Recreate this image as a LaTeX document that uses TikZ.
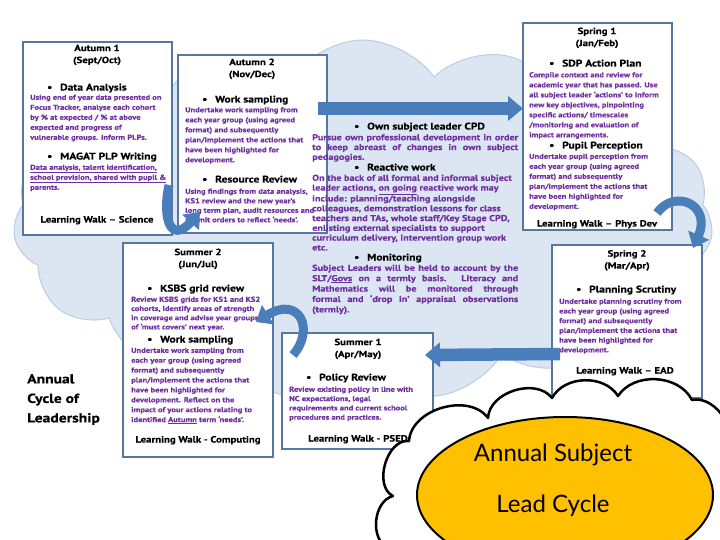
\documentclass[tikz,border=0pt]{standalone}
\usepackage{fontspec}
\setmainfont{PT Sans}
\newfontfamily\bx{PT Sans}[FakeStretch=1.2, Ligatures=TeX, BoldFeatures={FakeBold=0.4}]
\newfontfamily\latofont{Lato}
\usetikzlibrary{shapes.symbols,shapes.geometric,arrows.meta,calc}
\definecolor{cloudfill}{HTML}{DCE6F2}
\definecolor{cloudline}{HTML}{B9CDE5}
\definecolor{boxline}{HTML}{56779F}
\definecolor{arrowblue}{HTML}{4A7EBB}
\definecolor{txtpurple}{HTML}{7030A0}
\definecolor{ellorange}{HTML}{FFC000}
\newcommand{\bul}{\makebox[13pt][l]{\textbullet}}
\newcommand{\jl}[1]{\makebox[206pt][s]{#1}}
\tikzset{
  season/.style={draw=boxline, line width=1.5pt, fill=white, anchor=north west, inner sep=0pt, outer sep=0pt},
  ttl/.style={anchor=north, align=center, inner sep=0pt, font=\bx\bfseries\fontsize{9}{12}\selectfont},
  hd/.style={anchor=mid west, inner sep=0pt, font=\bx\bfseries\fontsize{9.6}{10}\selectfont},
  bdy/.style={anchor=north west, align=left, inner sep=0pt, text=txtpurple, font=\bx\bfseries\fontsize{7.1}{10}\selectfont},
  mbdy/.style={anchor=north west, align=left, inner sep=0pt, text=txtpurple, font=\bx\bfseries\fontsize{8.5}{9.8}\selectfont},
  ftr/.style={anchor=mid, inner sep=0pt, font=\bx\bfseries\fontsize{9}{10}\selectfont},
  straightarrow/.style={line width=12.5pt, draw=arrowblue, -{Triangle[width=24pt 0,length=15pt 0]}},
  curvearrow/.style={line width=9pt, draw=arrowblue, -{Triangle[width=22pt 0,length=14pt 0]}},
  bigtext/.style={anchor=mid, inner sep=0pt, font=\latofont\fontsize{24}{28}\selectfont},
  whitecloud/.style={fill=white, draw=black, line width=2.5pt, line join=round}
}
\begin{document}
\begin{tikzpicture}[x=1pt,y=-1pt]
\useasboundingbox (0,0) rectangle (720,540);
\clip (0,0) rectangle (720,540);
% background cloud
\node[cloud, cloud puffs=15, cloud puff arc=110, aspect=1.95, minimum width=700pt, minimum height=360pt,
      fill=cloudfill, draw=cloudline, line width=1pt] (bg) at (363,220) {};
% season boxes
\node[season, minimum width=149pt, minimum height=193pt] (a1) at (23,42) {};
\node[season, minimum width=149pt, minimum height=178pt] (a2) at (178,55) {};
\node[season, minimum width=149pt, minimum height=207pt] (s1) at (523,23) {};
\node[season, minimum width=150pt, minimum height=153pt] (sp2) at (552,245) {};
\node[season, minimum width=150pt, minimum height=214pt] (su2) at (123,243) {};
\node[season, minimum width=151pt, minimum height=116pt] (su1) at (282,333) {};

% Autumn 1
\node[ttl] (a1t) at (97,44.5) {Autumn 1\\(Sept/Oct)};
\node[hd] (a1h1) at (47,88) {\bul Data Analysis};
\node[bdy] (a1b1) at (30,94.5) {Using end of year data presented on\\Focus Tracker, analyse each cohort\\by \% at expected / \% at above\\expected and progress of\\vulnerable groups. Inform PLPs.};
\node[hd] (a1h2) at (47,157) {\bul MAGAT PLP Writing};
\node[bdy] (a1b2) at (30,164.5) {\underline{Data analysis, talent identification,}\\\underline{school provision, shared with pupil \&}\\parents.};
\node[ftr] (a1f) at (97,220) {Learning Walk – Science};

% Autumn 2
\node[ttl] (a2t) at (252,58.5) {Autumn 2\\(Nov/Dec)};
\node[hd] (a2h1) at (202,100) {\bul Work sampling};
\node[bdy] (a2b1) at (185,107) {Undertake work sampling from\\each year group (using agreed\\format) and subsequently\\plan/implement the actions that\\have been highlighted for\\development.};
\node[hd] (a2h2) at (202,180) {\bul Resource Review};
\node[bdy, font=\bx\bfseries\fontsize{7.1}{9.5}\selectfont] (a2b2) at (185,188.5) {Using findings from data analysis,\\KS1 review and the new year’s\\long term plan, audit resources and\\submit orders to reflect ‘needs’.};

% middle
\node[hd] (mh1) at (354,127) {\bul Own subject leader CPD};
\node[mbdy] (mb1) at (312,134) {\jl{Pursue own professional development in order}\\\jl{to keep abreast of changes in own subject}\\pedagogies.};
\node[hd] (mh2) at (354,168) {\bul Reactive work};
\node[mbdy] (mb2) at (312,174.5) {On the back of all formal and informal subject\\leader actions, \underline{on going} reactive work may\\include: planning/teaching alongside\\colleagues, demonstration lessons for class\\teachers and TAs, whole staff/Key Stage CPD,\\enlisting external specialists to support\\curriculum delivery, intervention group work\\etc.};
\node[hd] (mh3) at (354,258) {\bul Monitoring};
\node[mbdy, font=\bx\bfseries\fontsize{8.5}{10.4}\selectfont] (mb3) at (312,264.5) {\jl{Subject Leaders will be held to account by the}\\\jl{SLT/\underline{Govs} on a termly basis.  Literacy and}\\\jl{Mathematics will be monitored through}\\\jl{formal and ‘drop in’ appraisal observations}\\(termly).};

% Spring 1
\node[ttl] (s1t) at (597,27.5) {Spring 1\\(Jan/Feb)};
\node[hd] (s1h1) at (549,64) {\bul SDP Action Plan};
\node[bdy] (s1b1) at (529,72) {Compile context and review for\\academic year that has passed. Use\\all subject leader ‘actions’ to inform\\new key objectives, pinpointing\\specific actions/ timescales\\/monitoring and evaluation of\\impact arrangements.};
\node[hd] (s1h2) at (549,146) {\bul Pupil Perception};
\node[bdy] (s1b2) at (529,153.5) {Undertake pupil perception from\\each year group (using agreed\\format) and subsequently\\plan/implement the actions that\\have been highlighted for\\development.};
\node[ftr] (s1f) at (597,224) {Learning Walk – Phys Dev};

% Spring 2
\node[ttl] (sp2t) at (627,250) {Spring 2\\(Mar/Apr)};
\node[hd] (sp2h) at (576,290) {\bul Planning Scrutiny};
\node[bdy, font=\bx\bfseries\fontsize{7.1}{9.7}\selectfont] (sp2b) at (559,298.5) {Undertake planning scrutiny from\\each year group (using agreed\\format) and subsequently\\plan/implement the actions that\\have been highlighted for\\development.};
\node[ftr] (sp2f) at (625,371) {Learning Walk – EAD};

% Summer 2
\node[ttl] (su2t) at (198,248.5) {Summer 2\\(Jun/Jul)};
\node[hd] (su2h1) at (147,289) {\bul KSBS grid review};
\node[bdy, font=\bx\bfseries\fontsize{7.1}{9.2}\selectfont] (su2b1) at (131,296.5) {Review KSBS grids for KS1 and KS2\\cohorts, identify areas of strength\\in coverage and advise year groups\\of ‘must covers’ next year.};
\node[hd] (su2h2) at (147,340) {\bul Work sampling};
\node[bdy, font=\bx\bfseries\fontsize{7.1}{9.9}\selectfont] (su2b2) at (131,347.5) {Undertake work sampling from\\each year group (using agreed\\format) and subsequently\\plan/implement the actions that\\have been highlighted for\\development.  Reflect on the\\impact of your actions relating to\\identified \underline{Autumn} term ‘needs’.};
\node[ftr] (su2f) at (198,440) {Learning Walk - Computing};

% Summer 1
\node[ttl] (su1t) at (358,338.5) {Summer 1\\(Apr/May)};
\node[hd] (su1h) at (306,378) {\bul Policy Review};
\node[bdy, font=\bx\bfseries\fontsize{7.1}{9.3}\selectfont] (su1b) at (289,386.5) {Review existing policy in line with\\NC expectations, legal\\requirements and current school\\procedures and practices.};
\node[ftr] (su1f) at (358,439) {Learning Walk - PSED};

% side title
\node[anchor=north west, align=left, inner sep=0pt, font=\bx\bfseries\fontsize{13}{19.5}\selectfont] (side) at (27,374) {Annual\\Cycle of\\Leadership};

% arrows
\draw[straightarrow] ($(a2.north east)+(-9,53.5)$) -- ($(s1.north west)+(0,85.5)$);
\draw[curvearrow] ($(a1.north east)+(-3,143)$) .. controls +(-7,32) and +(-30,33) .. ($(a2.south west)+(22,-21)$);
\draw[curvearrow] ($(s1.south east)+(-15,-17)$) .. controls +(18,-25) and +(19,-43) .. ($(sp2.north east)+(-9,3)$);
\draw[straightarrow] ($(sp2.north west)+(8,109)$) -- ($(su1.north east)+(-8,22)$);
\draw[curvearrow] ($(su1.north west)+(11,22)$) .. controls +(22,-25) and +(44,-27) .. ($(su2.north east)+(-17,79)$);

% bottom cloud
\draw[whitecloud] (388,548) to[bend left=70] (393,496) to[bend left=80] (409,441)
   to[bend left=70] (488,418) to[bend left=70] (552,398) to[bend left=60] (618,396)
   to[bend left=60] (692,400) to[bend left=70] (726,455) -- (726,548) -- cycle;
\node[ellipse, fill=ellorange, draw=black, line width=2pt, minimum width=296pt, minimum height=156pt] (el) at (565,495) {};
\node[bigtext] (el1) at (553,459) {Annual Subject};
\node[bigtext] (el2) at (553,510) {Lead Cycle};
\end{tikzpicture}
\end{document}
